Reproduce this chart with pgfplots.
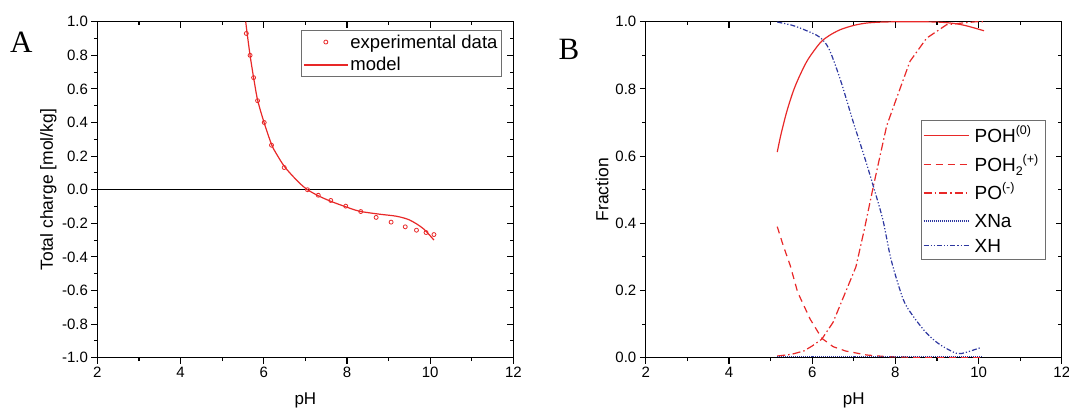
\documentclass[border=0pt]{standalone}
\usepackage{fontspec}
\setmainfont{Liberation Sans}
\newfontfamily\panelfont{Liberation Serif}
\usepackage{pgfplots}
\pgfplotsset{compat=1.18}

\definecolor{cred}{RGB}{232,40,40}
\definecolor{cblue}{RGB}{45,55,160}
\definecolor{lgray}{RGB}{110,110,110}

% small raised / lowered text for the legend
\newcommand{\up}[1]{\raisebox{0.42em}{\fontsize{12.5}{14}\selectfont #1}}
\newcommand{\dn}[1]{\raisebox{-0.22em}{\fontsize{12.5}{14}\selectfont #1}}

\tikzset{legtext/.style={anchor=base west, inner sep=0pt, font=\fontsize{19}{22}\selectfont}}

\pgfplotsset{
  panel/.style={
    scale only axis, width=416pt, height=336pt,
    xmin=2, xmax=12, xtick={2,4,...,12}, minor x tick num=1,
    minor y tick num=1,
    axis line style={line width=1.2pt},
    tick align=outside, xtick pos=bottom, ytick pos=left,
    major tick length=6pt, minor tick length=3.5pt,
    every tick/.style={black, line width=1.1pt},
    tick label style={font=\fontsize{15}{18}\selectfont},
    /pgf/number format/assume math mode=true,
    yticklabel style={/pgf/number format/.cd, fixed, fixed zerofill, precision=1},
    every axis x label/.style={at={(axis description cs:0.5,-0.1265)}, anchor=center,
      font=\fontsize{17}{20}\selectfont},
    legend cell align=left,
    legend image code/.code={\draw[mark repeat=2,mark phase=2,#1] plot coordinates {(0pt,0pt) (22pt,0pt) (44pt,0pt)};},
  },
  mirror/.style={
    scale only axis, width=416pt, height=336pt,
    xmin=2, xmax=12, xtick={2,4,...,12}, minor x tick num=1,
    minor y tick num=1,
    axis line style={draw=none},
    tick align=inside, xtick pos=top, ytick pos=right,
    major tick length=6pt, minor tick length=3.5pt,
    every tick/.style={black, line width=1.1pt},
    xticklabels={}, yticklabels={},
  },
}

\begin{document}
\begin{tikzpicture}
\useasboundingbox (0pt,0pt) rectangle (1069pt,408pt);

% ---------- panel A ----------
\begin{axis}[panel, at={(97.4pt,50.3pt)}, anchor=south west,
    ymin=-1, ymax=1, ytick={-1,-0.8,...,1.01},
    xlabel={pH}, ylabel={Total charge [mol/kg]},
    every axis y label/.style={at={(axis description cs:-0.118,0.5)}, rotate=90, anchor=center,
      font=\fontsize{17.5}{21}\selectfont},
    legend style={name=legA, at={(1,1)}, anchor=north east, xshift=-11.7pt, yshift=-8.7pt,
      draw=none, font=\fontsize{18.5}{22}\selectfont,
      inner xsep=2pt, inner ysep=2pt, row sep=4pt},
]
\addplot[black, line width=1.1pt, forget plot] coordinates {(2,0) (12,0)};

% experimental data
\addplot[only marks, mark=o, mark size=2pt, cred, mark options={line width=0.8pt}] coordinates {
  (5.58,0.93) (5.67,0.80) (5.755,0.667) (5.85,0.53) (6.01,0.40) (6.185,0.265)
  (6.49,0.132) (7.05,0.0) (7.31,-0.033) (7.61,-0.064) (7.97,-0.098) (8.33,-0.130)
  (8.70,-0.165) (9.06,-0.193) (9.40,-0.221) (9.67,-0.241) (9.90,-0.255) (10.09,-0.267)
};

% model
\addplot[cred, line width=1.2pt, smooth] coordinates {
  (5.565,1.0) (5.6,0.93) (5.67,0.80) (5.755,0.667) (5.85,0.535) (6.0,0.405)
  (6.185,0.27) (6.3,0.215) (6.49,0.14) (6.7,0.08) (6.9,0.03) (7.05,0.0)
  (7.3,-0.035) (7.6,-0.068) (7.95,-0.10) (8.3,-0.128) (8.79,-0.146) (9.19,-0.158)
  (9.51,-0.181) (9.83,-0.231) (10.09,-0.30)
};
\legend{experimental data, model}
\end{axis}
\draw[lgray, line width=0.9pt] (legA.south west) rectangle (legA.north east);
\begin{axis}[mirror, at={(97.4pt,50.3pt)}, anchor=south west,
    ymin=-1, ymax=1, ytick={-1,-0.8,...,1.01}]
\end{axis}

% ---------- panel B ----------
\begin{axis}[panel, at={(645.8pt,50.3pt)}, anchor=south west,
    ymin=0, ymax=1, ytick={0,0.2,...,1.01},
    xlabel={pH}, ylabel={Fraction},
    every axis y label/.style={at={(axis description cs:-0.105,0.5)}, rotate=90, anchor=center,
      font=\fontsize{17.5}{21}\selectfont},
]
% POH(0)
\addplot[cred, line width=1.2pt, smooth] coordinates {
  (5.16,0.612) (5.25,0.665) (5.39,0.733) (5.55,0.795) (5.71,0.842) (5.9,0.888)
  (6.19,0.937) (6.4,0.958) (6.67,0.976) (7.0,0.989) (7.31,0.996) (7.7,0.999)
  (8.3,1.0) (9.0,0.999) (9.39,0.995) (9.7,0.988) (10.13,0.973)
};
% POH2(+)
\addplot[cred, line width=1.2pt, dash pattern=on 7pt off 5pt] coordinates {
  (5.16,0.39) (5.3,0.335) (5.47,0.275) (5.65,0.195) (5.95,0.115) (6.23,0.058)
  (6.5,0.033) (6.8,0.02) (7.31,0.008) (7.8,0.003) (8.5,0.001) (10.1,0.0)
};
% PO(-)
\addplot[cred, line width=1.2pt, dash pattern=on 8pt off 3pt on 1.5pt off 3pt] coordinates {
  (5.16,0.005) (5.5,0.01) (5.8,0.02) (6.0,0.035) (6.23,0.055) (6.5,0.105)
  (6.75,0.18) (7.05,0.27) (7.25,0.38) (7.47,0.51) (7.79,0.69) (8.03,0.773)
  (8.35,0.882) (8.75,0.951) (9.23,0.991) (9.6,0.996) (9.95,1.0) (10.1,1.0)
};
% XNa
\addplot[cblue, line width=1.2pt, dash pattern=on 1pt off 1pt] coordinates {
  (5.16,0.003) (6.0,0.003) (7.0,0.003) (8.0,0.003) (9.0,0.003) (10.1,0.003)
};
% XH
\addplot[cblue, line width=1.2pt, smooth, dash pattern=on 5pt off 2pt on 1.2pt off 2pt on 1.2pt off 2pt] coordinates {
  (5.16,0.999) (5.5,0.99) (5.71,0.981) (6.0,0.966) (6.19,0.953) (6.4,0.92)
  (6.67,0.83) (6.99,0.70) (7.25,0.60) (7.47,0.51) (7.7,0.41) (7.9,0.29)
  (8.19,0.173) (8.43,0.123) (8.75,0.073) (9.07,0.039) (9.47,0.013) (9.7,0.016)
  (10.07,0.031)
};

% legend box for panel B
\draw[lgray, line width=0.9pt, fill=white] (rel axis cs:0.6615,0.2937) rectangle (rel axis cs:0.961,0.7063);
\draw[cred, line width=1.2pt] (rel axis cs:0.6676,0.661) -- (rel axis cs:0.7768,0.661);
\draw[cred, line width=1.2pt, dash pattern=on 7pt off 5pt] (rel axis cs:0.6676,0.574) -- (rel axis cs:0.7768,0.574);
\draw[cred, line width=1.2pt, dash pattern=on 8pt off 3pt on 1.5pt off 3pt] (rel axis cs:0.6676,0.490) -- (rel axis cs:0.7768,0.490);
\draw[cblue, line width=1.2pt, dash pattern=on 1pt off 1pt] (rel axis cs:0.6676,0.407) -- (rel axis cs:0.7768,0.407);
\draw[cblue, line width=1.2pt, dash pattern=on 5pt off 2pt on 1.2pt off 2pt on 1.2pt off 2pt] (rel axis cs:0.6676,0.334) -- (rel axis cs:0.7768,0.334);
\node[legtext] at (rel axis cs:0.7899,0.641) {POH\up{(0)}};
\node[legtext] at (rel axis cs:0.7899,0.554) {POH\dn{2}\up{(+)}};
\node[legtext] at (rel axis cs:0.7899,0.470) {PO\up{(-)}};
\node[legtext] at (rel axis cs:0.7899,0.387) {XNa};
\node[legtext] at (rel axis cs:0.7899,0.314) {XH};
\end{axis}
\begin{axis}[mirror, at={(645.8pt,50.3pt)}, anchor=south west,
    ymin=0, ymax=1, ytick={0,0.2,...,1.01}]
\end{axis}

% panel letters
\node[anchor=base west, inner sep=0pt, font=\panelfont\fontsize{31}{36}\selectfont] at (10pt,355pt) {A};
\node[anchor=base west, inner sep=0pt, font=\panelfont\fontsize{31}{36}\selectfont] at (558.5pt,348pt) {B};
\end{tikzpicture}
\end{document}
